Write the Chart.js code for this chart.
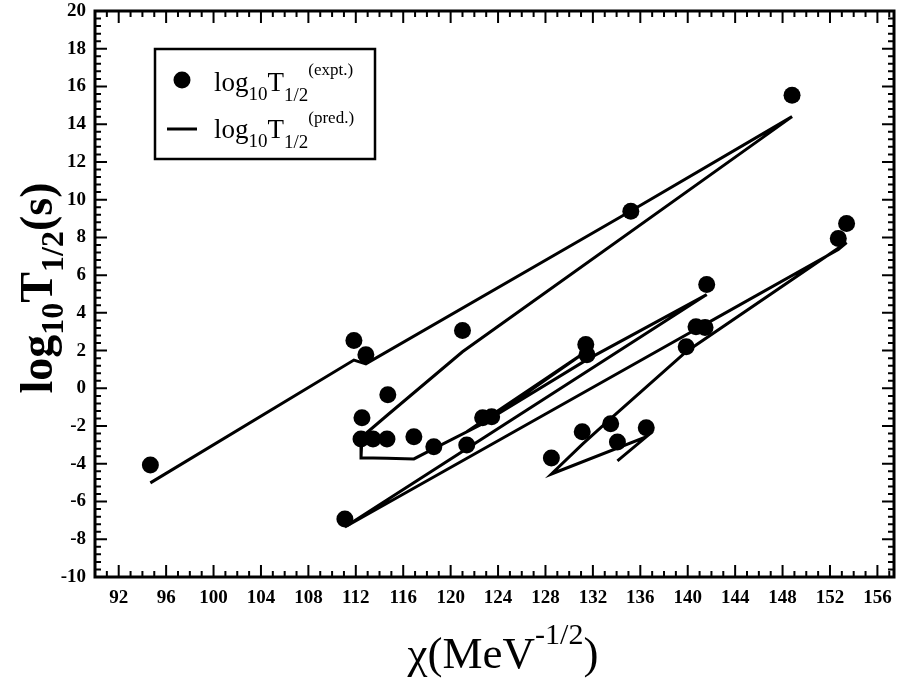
<!DOCTYPE html>
<html>
<head>
<meta charset="utf-8">
<script src="https://cdn.jsdelivr.net/npm/chart.js@4"></script>
<style>
  body { margin: 0; background: #fff; }
  #wrap { width: 898px; height: 682px; }
</style>
</head>
<body>
<div id="wrap"><canvas id="grafico" width="898" height="682"></canvas></div>
<script>
// ============================
// DATOS
// ============================
const chi = [94.67, 111.84, 112.85, 135.2, 148.8, 121.0, 114.7, 112.52, 112.44, 113.45,
  114.63, 116.9, 118.58, 122.7, 131.4, 121.36, 123.46, 131.5, 141.6, 111.08,
  140.7, 141.46, 152.7, 153.4, 139.87, 133.5, 131.1, 128.5, 136.5, 134.07];
const logExpt = [-4.06, 2.53, 1.78, 9.38, 15.54, 3.06, -0.34, -1.56, -2.68, -2.68,
  -2.68, -2.57, -3.10, -1.56, 2.32, -3.0, -1.51, 1.78, 5.5, -6.93,
  3.27, 3.22, 7.94, 8.74, 2.21, -1.88, -2.3, -3.69, -2.09, -2.84];
const logPred = [-5.01, 1.5, 1.3, 9.4, 14.4, 1.94, -1.4, -2.57, -3.69, -3.69,
  -3.7, -3.74, -3.2, -1.88, 1.94, -2.3, -1.56, 1.52, 4.97, -7.35,
  3.13, 3.39, 7.36, 7.73, 1.94, -1.61, -2.97, -4.54, -2.57, -3.84];

const xTicks = [92, 96, 100, 104, 108, 112, 116, 120, 124, 128, 132, 136, 140, 144, 148, 152, 156];
const yTicks = [-10, -8, -6, -4, -2, 0, 2, 4, 6, 8, 10, 12, 14, 16, 18, 20];
const xMin = 90, xMax = 157.4, xMinorStep = 1;
const yMin = -10, yMax = 20, yMinorStep = 0.4;

const SERIF = "'Liberation Serif', 'Times New Roman', serif";

// ============================
// MARCO Y MARCAS EN LOS 4 LADOS
// ============================
const marcoPlugin = {
  id: "marco",
  afterDraw(chart) {
    const ctx = chart.ctx;
    const a = chart.chartArea;
    const sx = chart.scales.x, sy = chart.scales.y;
    ctx.save();
    ctx.strokeStyle = "#000";
    ctx.lineWidth = 2;
    ctx.beginPath();
    for (let v = Math.ceil(xMin); v <= xMax; v += xMinorStep) {
      const px = sx.getPixelForValue(v);
      const len = xTicks.includes(v) ? 12 : 6;
      ctx.moveTo(px, a.bottom); ctx.lineTo(px, a.bottom - len);
      ctx.moveTo(px, a.top); ctx.lineTo(px, a.top + len);
    }
    for (let i = 0; yMin + i * yMinorStep <= yMax + 1e-9; i++) {
      const v = +(yMin + i * yMinorStep).toFixed(2);
      const py = sy.getPixelForValue(v);
      const len = yTicks.includes(v) ? 12 : 6;
      ctx.moveTo(a.left, py); ctx.lineTo(a.left + len, py);
      ctx.moveTo(a.right, py); ctx.lineTo(a.right - len, py);
    }
    ctx.stroke();
    ctx.lineWidth = 3;
    ctx.strokeRect(a.left, a.top, a.right - a.left, a.bottom - a.top);
    ctx.restore();
  }
};

// texto con sub/superindices: partes = [texto, tamaño, desplazamiento]
function medir(ctx, partes, peso) {
  let w = 0;
  partes.forEach(p => { ctx.font = `${peso} ${p[1]}px ${SERIF}`; w += ctx.measureText(p[0]).width; });
  return w;
}
function escribir(ctx, partes, x, y, peso) {
  partes.forEach(p => {
    ctx.font = `${peso} ${p[1]}px ${SERIF}`;
    ctx.fillText(p[0], x, y + p[2]);
    x += ctx.measureText(p[0]).width;
  });
  return x;
}

// ============================
// TITULOS DE EJES Y LEYENDA
// ============================
const textosPlugin = {
  id: "textos",
  afterDraw(chart) {
    const ctx = chart.ctx;
    ctx.save();
    ctx.fillStyle = "#000";
    ctx.textBaseline = "alphabetic";
    ctx.textAlign = "left";

    // eje Y
    const tituloY = [["log", 46, 0], ["10", 32, 11], ["T", 46, 0], ["1/2", 32, 11], ["(s)", 46, 0]];
    ctx.save();
    ctx.translate(52, 288);
    ctx.rotate(-Math.PI / 2);
    const wy = medir(ctx, tituloY, "bold");
    escribir(ctx, tituloY, -wy / 2, 0, "bold");
    ctx.restore();

    // eje X
    const tituloX = [["\u03c7(MeV", 45, 0], ["-1/2", 30, -24], [")", 45, 0]];
    const wx = medir(ctx, tituloX, "normal");
    escribir(ctx, tituloX, 503 - wx / 2, 668, "normal");

    // leyenda
    ctx.lineWidth = 2.5;
    ctx.strokeStyle = "#000";
    ctx.strokeRect(155, 49, 220, 110);
    ctx.beginPath();
    ctx.arc(182, 80, 8.5, 0, Math.PI * 2);
    ctx.fill();
    ctx.lineWidth = 3;
    ctx.beginPath();
    ctx.moveTo(167, 129); ctx.lineTo(197, 129);
    ctx.stroke();
    escribir(ctx, [["log", 27, 0], ["10", 19, 9], ["T", 27, 0], ["1/2", 19, 10], ["(expt.)", 17, -16]], 214, 91, "normal");
    escribir(ctx, [["log", 27, 0], ["10", 19, 9], ["T", 27, 0], ["1/2", 19, 10], ["(pred.)", 17, -15]], 214, 138, "normal");
    ctx.restore();
  }
};

// ============================
// GRAFICO
// ============================
const puntosExpt = chi.map((c, i) => ({ x: c, y: logExpt[i] }));
const puntosPred = chi.map((c, i) => ({ x: c, y: logPred[i] }));

new Chart(document.getElementById("grafico"), {
  type: "scatter",
  data: {
    datasets: [
      {
        label: "expt",
        data: puntosExpt,
        pointRadius: 8.5,
        pointHoverRadius: 8.5,
        backgroundColor: "#000",
        borderWidth: 0,
        showLine: false,
        order: 1
      },
      {
        label: "pred",
        data: puntosPred,
        showLine: true,
        pointRadius: 0,
        borderColor: "#000",
        borderWidth: 3,
        fill: false,
        tension: 0,
        order: 2
      }
    ]
  },
  options: {
    responsive: false,
    animation: false,
    layout: { autoPadding: false, padding: { top: 11, right: 4, left: 0, bottom: 0 } },
    plugins: { legend: { display: false }, tooltip: { enabled: false } },
    scales: {
      x: {
        type: "linear",
        min: xMin,
        max: xMax,
        grid: { display: false, drawTicks: false },
        border: { display: false },
        afterBuildTicks: s => { s.ticks = xTicks.map(v => ({ value: v })); },
        afterFit: s => { s.height = 105; s.paddingLeft = 0; s.paddingRight = 0; },
        ticks: {
          autoSkip: false, maxRotation: 0, padding: 10, color: "#000",
          font: { family: SERIF, size: 19, weight: "bold" }
        }
      },
      y: {
        type: "linear",
        min: yMin,
        max: yMax,
        grid: { display: false, drawTicks: false },
        border: { display: false },
        afterBuildTicks: s => { s.ticks = yTicks.map(v => ({ value: v })); },
        afterFit: s => { s.width = 95; s.paddingTop = 0; s.paddingBottom = 0; },
        ticks: {
          autoSkip: false, padding: 9, color: "#000",
          font: { family: SERIF, size: 19, weight: "bold" }
        }
      }
    }
  },
  plugins: [marcoPlugin, textosPlugin]
});
</script>
</body>
</html>
